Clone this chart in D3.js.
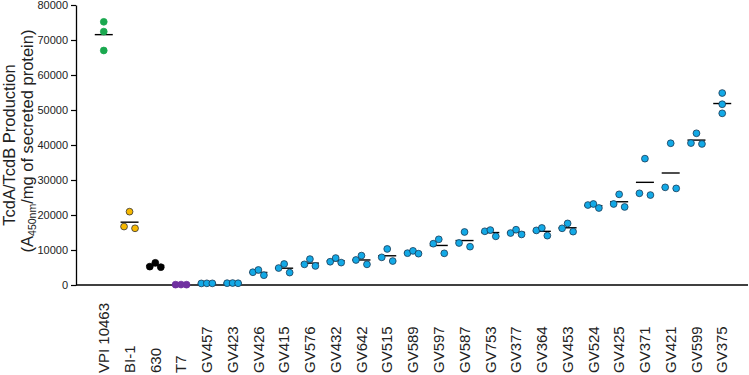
<!DOCTYPE html>
<html>
<head>
<meta charset="utf-8">
<script src="https://cdn.jsdelivr.net/npm/d3@7"></script>
<style>
body{margin:0;background:#fff;}
text{font-family:Arial,"Liberation Sans",sans-serif;}
</style>
</head>
<body>
<svg id="chart" width="749" height="375"></svg>
<script>
// strains, left to right
var strains = ['VPI 10463','BI-1','630','T7','GV457','GV423','GV426','GV415','GV576','GV432',
	'GV642','GV515','GV589','GV597','GV587','GV753','GV377','GV364','GV453','GV524',
	'GV425','GV371','GV421','GV599','GV375'];

// three replicates per strain (left, middle, right dot)
var rep1 = [75200,16700,5250,100,450,520,3650,4850,5900,6650,7150,7900,9100,11800,12000,15350,14850,15600,16200,22850,23150,26200,27900,40550,54850];
var rep2 = [72400,20950,6350,120,480,560,4300,6000,7400,7700,8400,10300,9750,13050,15150,15700,15800,16300,17600,23150,25900,36100,40500,43350,51650];
var rep3 = [67000,16200,5100,90,470,500,2800,3550,5450,6400,5900,6850,8950,9050,10950,13900,14450,14100,15250,22000,22300,25700,27600,40300,49050];

var yTicks = [0,10000,20000,30000,40000,50000,60000,70000,80000];

var svg = d3.select('#chart');
var axisX = 76, baseY = 285, topY = 5, rightX = 748;
var r = 3.4, spread = 5.5;

var xscale = d3.scalePoint().domain(strains).range([78,748]).padding(1);
var yscale = d3.scaleLinear().domain([0,80000]).range([baseY,topY]);

var color = d3.scaleOrdinal()
	.domain(['VPI 10463','BI-1','630','T7'])
	.range(['#1aa84f','#f7b800','#000000','#7030a0'])
	.unknown('#13a9e6');
var stroke = d3.scaleOrdinal()
	.domain(['VPI 10463','BI-1','630','T7'])
	.range(['#1aa84f','#333333','#000000','#7030a0'])
	.unknown('#1a3a55');

var groups = strains.map(function(s,i){
	var vals = [rep1[i],rep2[i],rep3[i]];
	var ys = vals.map(function(v){return yscale(v);});
	// points that overlap get spread sideways
	var crowded = false;
	for(var a=0;a<3;a++) for(var b=a+1;b<3;b++) if(Math.abs(ys[a]-ys[b])<2*r+1.2) crowded = true;
	return {strain:s, mean:d3.mean(vals), pts:vals.map(function(v,k){
		return {strain:s, value:v, dx: crowded ? (k-1)*spread : 0};
	})};
});

// axes
var yAxis = svg.append('g').attr('transform','translate('+axisX+',0)')
	.call(d3.axisLeft(yscale).tickValues(yTicks).tickFormat(d3.format('d'))
		.tickSize(5).tickPadding(3).tickSizeOuter(0));
yAxis.select('.domain').attr('stroke','#000').attr('stroke-width',1.3);
yAxis.selectAll('.tick line').attr('stroke','#000').attr('stroke-width',1.2);
yAxis.selectAll('.tick text').attr('font-size','11px').attr('fill','#222')
	.style('font-family','Arial,"Liberation Sans",sans-serif');

svg.append('line').attr('x1',axisX).attr('x2',rightX).attr('y1',baseY).attr('y2',baseY)
	.attr('stroke','#000').attr('stroke-width',1.3);

// mean lines
svg.append('g').selectAll('line').data(groups).enter().append('line')
	.attr('x1',function(d){return xscale(d.strain)-9;})
	.attr('x2',function(d){return xscale(d.strain)+9;})
	.attr('y1',function(d){return yscale(d.mean);})
	.attr('y2',function(d){return yscale(d.mean);})
	.attr('stroke','#000').attr('stroke-width',1.4);

// dots
svg.append('g').selectAll('circle').data(d3.merge(groups.map(function(g){return g.pts;})))
	.enter().append('circle')
	.attr('cx',function(d){return xscale(d.strain)+d.dx;})
	.attr('cy',function(d){return yscale(d.value);})
	.attr('r',r)
	.attr('fill',function(d){return color(d.strain);})
	.attr('stroke',function(d){return stroke(d.strain);})
	.attr('stroke-width',0.8);

// strain labels
svg.append('g').selectAll('text').data(strains).enter().append('text')
	.attr('transform',function(d){return 'translate('+xscale(d)+',373) rotate(-90)';})
	.attr('dy','0.35em')
	.attr('text-anchor','start')
	.attr('font-size','15px')
	.attr('fill','#222')
	.text(function(d){return d;});

// y title
var title = svg.append('g').attr('transform','translate(0,'+((baseY+topY)/2)+') rotate(-90)');
title.append('text').attr('x',0).attr('y',15).attr('text-anchor','middle')
	.attr('font-size','16.5px').attr('fill','#222').text('TcdA/TcdB Production');
var t2 = title.append('text').attr('x',4).attr('y',33).attr('text-anchor','middle')
	.attr('font-size','16.5px').attr('fill','#222');
t2.append('tspan').text('(A');
t2.append('tspan').attr('font-size','10.5px').attr('dy','3').text('450nm');
t2.append('tspan').attr('dy','-3').text('/mg of secreted protein)');
</script>
</body>
</html>
